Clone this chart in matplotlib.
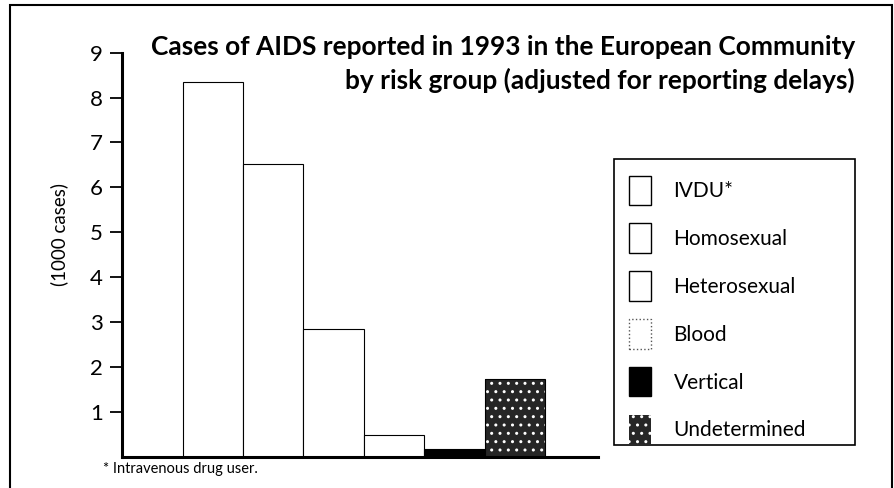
import matplotlib
matplotlib.use("Agg")
import matplotlib.pyplot as plt
from matplotlib.patches import Rectangle, Patch
from matplotlib import font_manager as fm

categories = ["IVDU*", "Homosexual", "Heterosexual", "Blood", "Vertical", "Undetermined"]
values = [8.35, 6.51, 2.85, 0.48, 0.17, 1.73]
yticks = [1, 2, 3, 4, 5, 6, 7, 8, 9]

names = {f.name for f in fm.fontManager.ttflist}
body_font = "Lato" if "Lato" in names else "DejaVu Sans"
title_font = body_font

plt.rcParams["font.family"] = [body_font, "DejaVu Sans"]

W, H = 895, 488
fig = plt.figure(figsize=(W / 100, H / 100), dpi=100)

ax = fig.add_axes([122.3 / W, 1 - 456.6 / H, 475.7 / W, (456.6 - 52.7) / H])
ax.set_xlim(0, 7.876)
ax.set_ylim(0, 9)

face = ["white", "white", "white", "white", "black", "#262626"]
xs = [i + 1.5 for i in range(len(values))]
for x, v, fc, cat in zip(xs, values, face, categories):
    if cat == "Undetermined":
        ax.bar(x, v, width=1.0, color=fc, edgecolor="white", hatch="..", linewidth=0, zorder=2)
        ax.bar(x, v, width=1.0, fill=False, edgecolor="black", linewidth=0.8, zorder=3)
    else:
        ax.bar(x, v, width=1.0, color=fc, edgecolor="black", linewidth=0.8, zorder=2)

for s in ["top", "right"]:
    ax.spines[s].set_visible(False)
ax.spines["left"].set_linewidth(2.2)
ax.spines["bottom"].set_linewidth(2.2)
ax.set_xticks([])
ax.set_yticks(yticks)
ax.set_yticklabels([str(t) for t in yticks])
ax.tick_params(axis="y", direction="out", length=9, width=1.3, pad=5, labelsize=16)
ax.set_ylabel("(1000 cases)", fontsize=13.5)
ax.yaxis.set_label_coords(-54 / 475.7, (456.6 - 235) / (456.6 - 52.7))

# title
fig.text(855 / W, 1 - 47 / H, "Cases of AIDS reported in 1993 in the European Community",
         ha="right", va="center", fontsize=18.9, fontweight="bold", family=[title_font, "DejaVu Sans"])
fig.text(855 / W, 1 - 80 / H, "by risk group (adjusted for reporting delays)",
         ha="right", va="center", fontsize=18.9, fontweight="bold", family=[title_font, "DejaVu Sans"])

# footnote
fig.text(103 / W, 1 - 469 / H, "* Intravenous drug user.", ha="left", va="center", fontsize=10.5)

# legend box
fig.patches.append(Rectangle((614 / W, 1 - 445 / H), (855 - 614) / W, (445 - 159) / H,
                             transform=fig.transFigure, fill=False, edgecolor="black", linewidth=1.2))
handles = [
    Patch(facecolor="white", edgecolor="black", linewidth=1.0),
    Patch(facecolor="white", edgecolor="black", linewidth=1.0),
    Patch(facecolor="white", edgecolor="black", linewidth=1.0),
    Patch(facecolor="white", edgecolor="#555555", linewidth=1.0, linestyle=":"),
    Patch(facecolor="black", edgecolor="black", linewidth=1.0),
    Patch(facecolor="#262626", edgecolor="white", hatch="..", linewidth=0),
]
leg = fig.legend(handles, categories, loc="upper left", bbox_to_anchor=(614 / W, 1 - 161 / H),
                 frameon=False, fontsize=15, handlelength=1.06, handleheight=1.79,
                 labelspacing=0.89, handletextpad=1.1, borderpad=0.2)

# outer frame
fig.patches.append(Rectangle((10 / W, -0.05), (892 - 10) / W, 1.05 - 5 / H,
                             transform=fig.transFigure, fill=False, edgecolor="black", linewidth=1.5))

fig.savefig("out.png", dpi=100)
